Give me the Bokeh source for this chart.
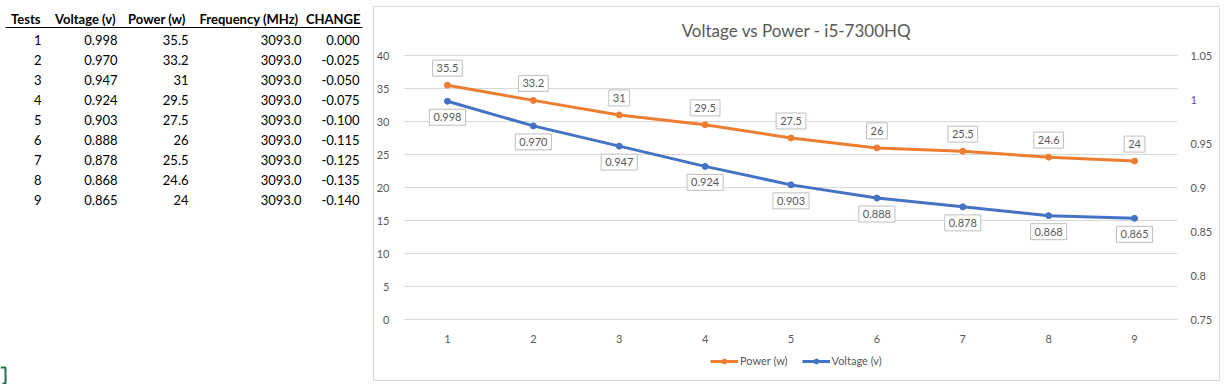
from bokeh.plotting import figure
from bokeh.models import (ColumnDataSource, Range1d, LinearAxis, FixedTicker, CustomJSTickFormatter,
                          Label, Legend, LegendItem)
from bokeh.embed import file_html
from bokeh.resources import INLINE
from bokeh.core.properties import value

# ---------------- data ----------------
tests = [1, 2, 3, 4, 5, 6, 7, 8, 9]
voltage = [0.998, 0.970, 0.947, 0.924, 0.903, 0.888, 0.878, 0.868, 0.865]
power = [35.5, 33.2, 31, 29.5, 27.5, 26, 25.5, 24.6, 24]
frequency = [3093.0, 3093.0, 3093.0, 3093.0, 3093.0, 3093.0, 3093.0, 3093.0, 3093.0]
change = [0.000, -0.025, -0.050, -0.075, -0.100, -0.115, -0.125, -0.135, -0.140]
headers = ["Tests", "Voltage (v)", "Power (w)", "Frequency (MHz)", "CHANGE"]
left_ticks = [0, 5, 10, 15, 20, 25, 30, 35, 40]
right_ticks = [0.75, 0.8, 0.85, 0.9, 0.95, 1.0, 1.05]
chart_title = "Voltage vs Power - i5-7300HQ"
series_names = ["Power (w)", "Voltage (v)"]

FONT = "Lato"
GRAY = "#595959"
ORANGE = "#ED7D31"
BLUE = "#4472C4"

# ---------------- layout constants (page pixels) ----------------
W, H = 1227, 384
FL, FR, FT, FB = 404, 1177, 55, 319          # plot-area edges
X0, X1 = 0.5, 9.5                             # category range across the plot area
Y0, Y1 = left_ticks[0], left_ticks[-1]
V0, V1 = right_ticks[0], right_ticks[-1]
PX = (FR - FL) / (X1 - X0)
PY = (FB - FT) / (Y1 - Y0)
PV = (FB - FT) / (V1 - V0)

src = ColumnDataSource(dict(x=tests, power=power, voltage=voltage))

c = figure(width=W, height=H,
           x_range=Range1d(X0 - FL / PX, X1 + (W - FR) / PX),
           y_range=Range1d(Y0 - (H - FB) / PY, Y0 + FB / PY),
           output_backend="svg", toolbar_location=None, min_border=0)
c.extra_y_ranges = {"v": Range1d(V0 - (H - FB) / PV, V0 + FB / PV),
                    "py": Range1d(H, 0)}
c.extra_x_ranges = {"px": Range1d(0, W)}
c.outline_line_color = None
c.background_fill_color = "white"
c.border_fill_color = "white"

# chart box border + title
c.quad(left=[373], right=[1219], top=[6], bottom=[380], x_range_name="px", y_range_name="py",
       fill_alpha=0, line_color="#d9d9d9", line_width=1)
c.text(x=[796], y=[30], text=[chart_title], x_range_name="px", y_range_name="py",
       text_align="center", text_baseline="middle", text_font=value(FONT),
       text_font_size="17px", text_color=GRAY)

# axes (pinned to the plot-area edges)
c.yaxis[0].fixed_location = X0
c.yaxis[0].ticker = FixedTicker(ticks=left_ticks)
c.xaxis[0].fixed_location = Y0
c.xaxis[0].ticker = FixedTicker(ticks=tests)
raxis = LinearAxis(y_range_name="v", ticker=FixedTicker(ticks=right_ticks), fixed_location=X1,
                   formatter=CustomJSTickFormatter(code="return String(parseFloat(tick.toFixed(2)));"))
c.add_layout(raxis, "right")
for ax in c.axis:
    ax.axis_line_color = None
    ax.major_tick_line_color = None
    ax.minor_tick_line_color = None
    ax.major_label_text_font = FONT
    ax.major_label_text_font_size = "11px"
    ax.major_label_text_color = GRAY
c.yaxis[0].major_label_standoff = 9
raxis.major_label_standoff = 7
c.xaxis[0].major_label_standoff = 9

# horizontal gridlines, only across the plot area
c.xgrid.visible = False
g = c.ygrid[0]
if "cross_bounds" in g.properties():
    g.ticker = FixedTicker(ticks=left_ticks)
    g.cross_bounds = (X0, X1)
    g.grid_line_color = "#d9d9d9"
    g.grid_line_width = 1
else:
    g.visible = False
    c.segment(x0=[X0] * len(left_ticks), x1=[X1] * len(left_ticks), y0=left_ticks, y1=left_ticks,
              line_color="#d9d9d9", line_width=1)

# series
pl = c.line("x", "power", source=src, line_color=ORANGE, line_width=3)
pc = c.scatter("x", "power", source=src, size=6, fill_color=ORANGE, line_color=ORANGE)
vl = c.line("x", "voltage", source=src, y_range_name="v", line_color=BLUE, line_width=3)
vc = c.scatter("x", "voltage", source=src, y_range_name="v", size=6, fill_color=BLUE, line_color=BLUE)

# data labels
for xv, pv, vv in zip(tests, power, voltage):
    c.add_layout(Label(x=xv, y=pv, text=f"{pv:g}", y_offset=17, text_align="center",
                       text_baseline="middle", text_font=FONT, text_font_size="11px",
                       text_color=GRAY, background_fill_color="white",
                       border_line_color="#bfbfbf", padding=4))
    c.add_layout(Label(x=xv, y=vv, y_range_name="v", text=f"{vv:.3f}", y_offset=-16,
                       text_align="center", text_baseline="middle", text_font=FONT,
                       text_font_size="11px", text_color=GRAY, background_fill_color="white",
                       border_line_color="#bfbfbf", padding=4))

# legend below the plot area
legend = Legend(items=[LegendItem(label=series_names[0], renderers=[pl, pc]),
                       LegendItem(label=series_names[1], renderers=[vl, vc])],
                orientation="horizontal", location=(710, H - 367))
legend.label_text_font = FONT
legend.label_text_font_size = "11px"
legend.label_text_color = GRAY
legend.glyph_width = 28
legend.glyph_height = 12
legend.label_standoff = 2
legend.spacing = 14
legend.padding = 0
legend.margin = 0
legend.border_line_color = None
legend.background_fill_alpha = 0
c.add_layout(legend)

# ---------------- worksheet table (left) ----------------
col_right = [41, 117, 188, 301, 359]
head_right = [40, 115, 185, 298, 360]
header_y = 18.5
row_y0, row_step = 39, 20

columns = [
    [str(v) for v in tests],
    [f"{v:.3f}" for v in voltage],
    [f"{v:g}" for v in power],
    [f"{v:.1f}" for v in frequency],
    [f"{v:.3f}" for v in change],
]
c.text(x=head_right, y=[header_y] * len(headers), text=headers, x_range_name="px", y_range_name="py",
       text_align="right", text_baseline="middle", text_font=value(FONT), text_font_size="13px",
       text_font_style="bold", text_color="black")
c.segment(x0=[5], y0=[27], x1=[362], y1=[27], x_range_name="px", y_range_name="py",
          line_color="black", line_width=1)
for ci, col in enumerate(columns):
    ys = [row_y0 + row_step * i for i in range(len(col))]
    c.text(x=[col_right[ci]] * len(col), y=ys, text=col, x_range_name="px", y_range_name="py",
           text_align="right", text_baseline="middle", text_font=value(FONT),
           text_font_size="13px", text_color="black")

# green cell-selection bracket
c.line(x=[0, 5, 5, 2], y=[367, 367, 383, 383], x_range_name="px", y_range_name="py",
       line_color="#217346", line_width=2)

open("out.html", "w").write(file_html(c, INLINE))
